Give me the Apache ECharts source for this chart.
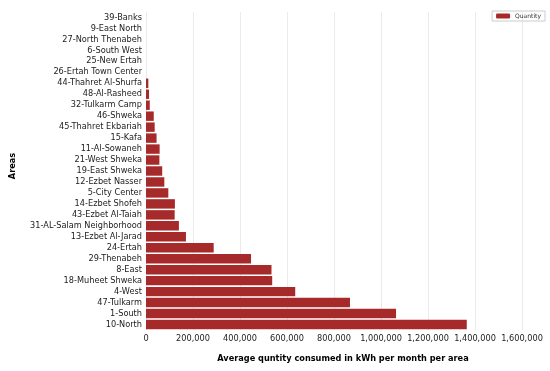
<!DOCTYPE html>
<html><head><meta charset="utf-8">
<script src="https://cdn.jsdelivr.net/npm/echarts@6/dist/echarts.min.js"></script>
<style>html,body{margin:0;padding:0;background:#fff}#c{width:550px;height:371px}</style>
</head><body><div id="c"></div>
<script>
const categories = ["39-Banks","9-East North","27-North Thenabeh","6-South West","25-New Ertah","26-Ertah Town Center","44-Thahret Al-Shurfa","48-Al-Rasheed","32-Tulkarm Camp","46-Shweka","45-Thahret Ekbariah","15-Kafa","11-Al-Sowaneh","21-West Shweka","19-East Shweka","12-Ezbet Nasser","5-City Center","14-Ezbet Shofeh","43-Ezbet Al-Taiah","31-AL-Salam Neighborhood","13-Ezbet Al-Jarad","24-Ertah","29-Thenabeh","8-East","18-Muheet Shweka","4-West","47-Tulkarm","1-South","10-North"];
const quantity = [0,0,0,0,0,0,10000,13000,16000,33000,37000,45000,58000,57000,69000,78000,95000,123000,122000,140000,170000,288000,447000,534000,537000,635000,868000,1064000,1365000];
const seriesName = "Quantity";
const xTitle = "Average quntity consumed in kWh per month per area";
const yTitle = "Areas";
const font = "DejaVu Sans";
const chart = echarts.init(document.getElementById('c'), null, {renderer:'canvas'});
chart.setOption({
  animation:false,
  textStyle:{fontFamily:font},
  legend:{right:5, top:11, itemWidth:14, itemHeight:5, borderColor:'#ccc', borderWidth:1, padding:[2,4], itemGap:4,
    textStyle:{fontSize:6, fontFamily:font, color:'#333'}, data:[seriesName]},
  grid:{left:146, right:28, top:12, bottom:41, containLabel:false, outerBoundsMode:'none'},
  xAxis:{type:'value', min:0, max:1600000, interval:200000,
    name:xTitle, nameLocation:'middle', nameGap:25,
    nameTextStyle:{fontWeight:'bold', fontSize:8.2, color:'#000', fontFamily:font, padding:[0,0,0,18]},
    axisLine:{show:false}, axisTick:{show:false},
    axisLabel:{fontSize:8.2, color:'#222', margin:5, fontFamily:font, hideOverlap:false,
      formatter:v=>v.toLocaleString('en-US')},
    splitLine:{show:true, lineStyle:{color:'#ebebeb', width:1}}},
  yAxis:{type:'category', data:categories, inverse:true,
    name:yTitle, nameLocation:'middle', nameGap:129, nameRotate:90,
    nameTextStyle:{fontWeight:'bold', fontSize:8.2, color:'#000', fontFamily:font, padding:[0,0,0,10]},
    axisLine:{show:false}, axisTick:{show:false},
    axisLabel:{fontSize:8.2, color:'#222', margin:4, fontFamily:font, interval:0},
    splitLine:{show:false}},
  series:[{type:'bar', name:seriesName, data:quantity, barCategoryGap:'14%',
    itemStyle:{color:'#a62a2a', borderWidth:0}}]
});
</script></body></html>
